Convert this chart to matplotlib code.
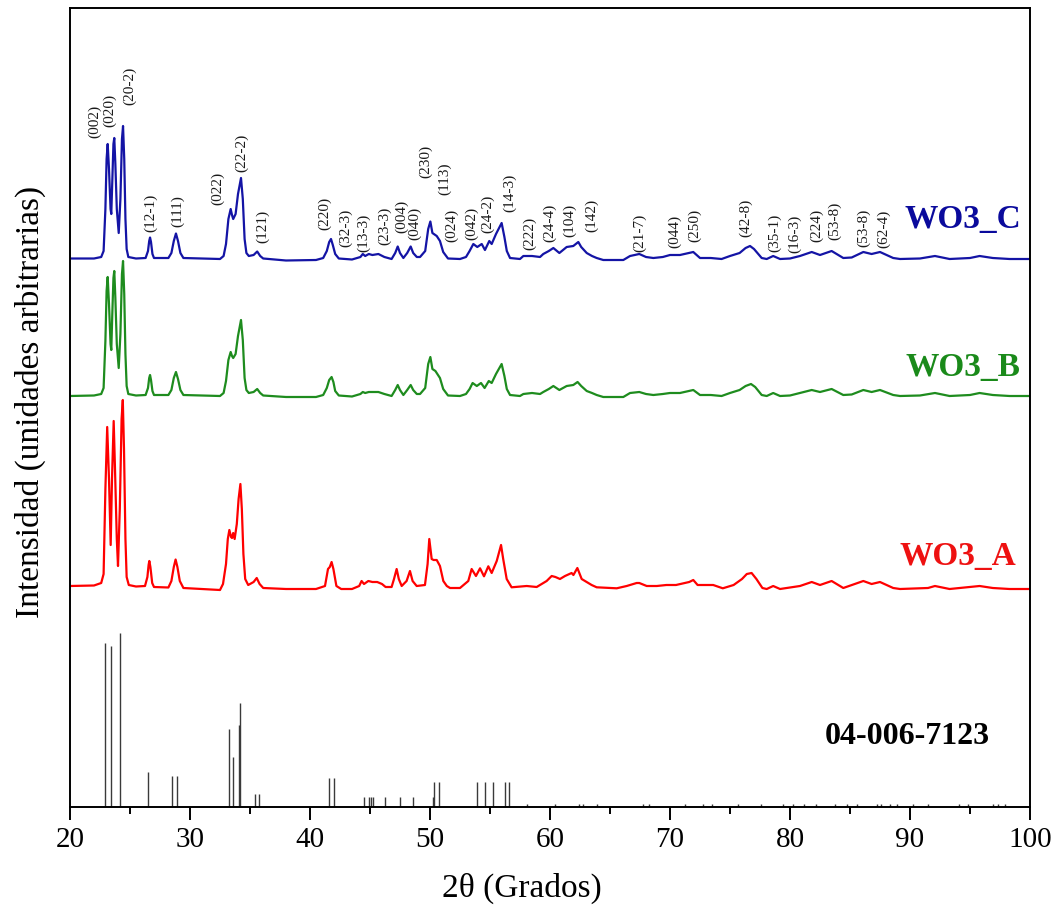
import matplotlib
matplotlib.use("Agg")
import matplotlib.pyplot as plt
import numpy as np

plt.rcParams['font.family'] = ['Liberation Serif', 'DejaVu Serif']

# ---------------- data ----------------
# WO3_C (blue) : 2theta, intensity above its own baseline (a.u.)
theta_C = [20.0, 22.0, 22.6, 22.8, 22.95, 23.05, 23.14, 23.25, 23.38, 23.44, 23.52, 23.62, 23.69, 23.78, 23.9,
           24.06, 24.2, 24.33, 24.42, 24.52, 24.62, 24.72, 24.86, 25.5, 26.3, 26.5, 26.6, 26.67, 26.75, 26.87,
           27.0, 28.2, 28.45, 28.65, 28.83, 29.0, 29.2, 29.45, 32.5, 32.8, 33.0, 33.2, 33.39, 33.5, 33.6,
           33.8, 34.0, 34.25, 34.4, 34.55, 34.7, 34.9, 35.3, 35.6, 35.85, 36.1, 38.0, 40.5, 41.1, 41.4,
           41.6, 41.75, 41.9, 42.1, 42.4, 43.5, 44.2, 44.4, 44.6, 44.9, 45.2, 45.7, 46.2, 46.8, 47.1,
           47.31, 47.5, 47.78, 48.1, 48.39, 48.6, 48.9, 49.17, 49.6, 49.85, 50.03, 50.2, 50.45, 50.56, 50.83,
           51.1, 51.5, 52.5, 53.0, 53.3, 53.61, 53.94, 54.31, 54.58, 54.94, 55.14, 55.5, 55.97, 56.2, 56.4,
           56.67, 57.5, 57.78, 58.5, 59.17, 59.44, 59.9, 60.28, 60.78, 61.39, 61.94, 62.36, 62.6, 63.06, 63.5,
           63.89, 64.44, 66.11, 66.67, 67.44, 68.0, 68.61, 69.4, 70.0, 70.83, 71.94, 72.5, 73.4, 74.3, 75.0,
           75.8, 76.3, 76.67, 77.0, 77.64, 78.06, 78.6, 79.17, 80.0, 80.83, 81.81, 82.5, 83.47, 84.44, 85.14,
           86.11, 86.8, 87.5, 88.6, 89.17, 90.83, 92.08, 93.3, 95.0, 95.8, 96.9, 98.3, 100.0]
inten_C = [0.5, 0.5, 2, 8, 50, 100, 115, 90, 50, 45, 75, 115, 121, 95, 50,
           26, 60, 120, 133, 100, 40, 10, 2, 0.5, 1, 8, 18, 21.5, 17, 5,
           1, 1, 6, 18, 25.5, 18, 6, 1, 0, 3, 15, 40, 50, 44, 40,
           45, 65, 81, 60, 20, 6, 3, 4, 7.5, 3, 0.5, -1.5, -1, 1, 8,
           17, 20, 14, 5, 0.5, -0.5, 2, 5, 3, 5, 4, 5, 2, 0, 6,
           12.5, 6, 1, 6, 12.5, 6, 2, 2, 8, 30, 37.5, 26, 24, 23, 18,
           7, 0.5, 0, 2, 8, 15, 12, 15, 9, 18, 15, 25, 36, 22, 8,
           1, 0, 3, 3, 2, 5, 8, 11, 6, 12, 13, 17, 12, 6, 3,
           1, -1, -1, 3, 5, 2, 1, 2, 4, 4, 7, 1, 1, 0, 3,
           6, 11, 13, 10, 1, 0, 3, 0, 0.5, 3, 7, 4, 8, 1, 1.5,
           7, 5, 7, 1, 0, 0.5, 3, 0, 1, 3, 1, 0, 0]

# WO3_B (green)
theta_B = [20.0, 22.0, 22.6, 22.8, 22.95, 23.05, 23.14, 23.25, 23.38, 23.44, 23.52, 23.62, 23.69, 23.78, 23.9,
           24.06, 24.2, 24.33, 24.42, 24.52, 24.62, 24.72, 24.86, 25.5, 26.3, 26.5, 26.6, 26.67, 26.75, 26.87,
           27.0, 28.2, 28.45, 28.65, 28.83, 29.0, 29.2, 29.45, 32.5, 32.8, 33.0, 33.2, 33.39, 33.5, 33.6,
           33.8, 34.0, 34.25, 34.4, 34.55, 34.7, 34.9, 35.3, 35.6, 35.85, 36.1, 38.0, 40.5, 41.1, 41.4,
           41.6, 41.8, 41.95, 42.1, 42.4, 43.5, 44.2, 44.4, 44.6, 44.9, 45.2, 45.7, 46.2, 46.8, 47.1,
           47.31, 47.5, 47.78, 48.1, 48.39, 48.6, 48.9, 49.17, 49.6, 49.85, 50.03, 50.2, 50.45, 50.56, 50.83,
           51.1, 51.5, 52.5, 53.0, 53.3, 53.55, 53.9, 54.25, 54.55, 54.9, 55.14, 55.5, 55.97, 56.2, 56.4,
           56.67, 57.5, 57.78, 58.5, 59.17, 59.44, 59.9, 60.28, 60.78, 61.39, 61.94, 62.3, 62.6, 63.06, 63.5,
           63.89, 64.44, 66.11, 66.67, 67.44, 68.0, 68.61, 69.4, 70.0, 70.83, 71.94, 72.5, 73.4, 74.3, 75.0,
           75.8, 76.3, 76.75, 77.1, 77.64, 78.06, 78.6, 79.17, 80.0, 80.83, 81.81, 82.5, 83.47, 84.44, 85.14,
           86.11, 86.8, 87.5, 88.6, 89.17, 90.83, 92.08, 93.3, 95.0, 95.8, 96.9, 98.3, 100.0]
inten_B = [0, 0.5, 2, 8, 55, 105, 119, 92, 52, 46, 80, 118, 125, 98, 52,
           28, 62, 122, 135, 102, 42, 10, 2, 0.5, 1, 8, 18, 21, 16, 5,
           1, 1, 6, 18, 24, 17, 6, 1, 0, 3, 15, 36, 44, 40, 38,
           42, 60, 76, 56, 18, 6, 3, 4, 7, 3, 0.5, -1, -1, 1, 8,
           16, 19, 14, 5, 0.5, -0.5, 2, 4, 3, 4, 4, 4, 2, 0, 6,
           11, 6, 1, 6, 11, 6, 2, 2, 8, 32, 39, 27, 25, 23, 18,
           7, 0.5, 0, 2, 7, 13, 10, 13, 8, 15, 13, 22, 32, 20, 7,
           1, 0, 2, 3, 2, 4, 7, 10, 6, 10, 11, 14, 10, 5, 3,
           1, -1, -1, 3, 4, 2, 1, 2, 3, 3, 6, 1, 1, 0, 3,
           6, 10, 12, 9, 1, 0, 3, 0, 0.5, 3, 6, 4, 7, 1, 1.5,
           6, 4, 6, 1, 0, 0.5, 3, 0, 1, 3, 1, 0, 0]

# WO3_A (red)
theta_A = [20.0, 22.0, 22.6, 22.8, 22.95, 23.1, 23.25, 23.39, 23.5, 23.64, 23.75, 23.9, 24.0, 24.15, 24.3,
           24.4, 24.5, 24.62, 24.72, 24.9, 25.5, 26.25, 26.45, 26.55, 26.61, 26.7, 26.85, 27.0, 28.2, 28.45,
           28.65, 28.8, 28.95, 29.15, 29.45, 32.5, 32.75, 33.0, 33.15, 33.28, 33.42, 33.5, 33.6, 33.72, 33.9,
           34.05, 34.2, 34.32, 34.45, 34.6, 34.85, 35.3, 35.56, 35.8, 36.1, 38.0, 40.5, 41.25, 41.5, 41.65,
           41.8, 41.95, 42.2, 42.6, 43.5, 44.1, 44.3, 44.5, 44.86, 45.2, 45.6, 46.0, 46.3, 46.8, 47.0,
           47.22, 47.4, 47.64, 48.05, 48.33, 48.55, 48.89, 49.58, 49.8, 49.94, 50.14, 50.3, 50.56, 50.83, 51.11,
           51.4, 51.67, 52.5, 53.19, 53.47, 53.83, 54.17, 54.5, 54.86, 55.14, 55.56, 55.92, 56.1, 56.39, 56.8,
           58.06, 58.89, 59.72, 60.14, 60.45, 60.83, 61.25, 61.8, 61.95, 62.28, 62.64, 63.06, 63.47, 63.89, 65.56,
           66.39, 67.22, 67.44, 68.06, 68.9, 69.7, 70.5, 71.6, 71.94, 72.3, 73.6, 74.4, 75.3, 76.0, 76.4,
           76.8, 77.2, 77.7, 78.06, 78.6, 79.17, 80.83, 81.81, 82.5, 83.47, 84.44, 86.11, 86.8, 87.5, 88.6,
           89.17, 91.5, 92.08, 93.3, 95.8, 96.9, 98.3, 100.0]
inten_A = [3, 3.5, 6, 15, 100, 162, 110, 44, 110, 168, 120, 50, 23, 80, 170,
           189, 140, 50, 12, 4, 2.5, 3, 12, 24, 28, 22, 6, 2, 1.5, 8,
           22, 29.5, 22, 8, 1, -1, 5, 25, 50, 59, 52, 51, 56, 50, 65,
           90, 105, 80, 35, 10, 4, 7, 11, 5, 1, 0, 0, 3, 20, 22,
           27, 20, 3, 0, 0, 3, 8, 5, 8, 7, 7, 5, 2, 2, 10,
           20, 10, 3, 8, 18, 8, 3, 4, 25, 50, 30, 29, 29, 23, 8,
           3, 1, 1, 8, 20, 13, 20.7, 12.7, 22.7, 16, 28, 44, 30, 10, 1.7,
           3, 2, 8, 13, 12, 10, 13, 16, 14, 21, 10, 7, 4, 1.7, 0.7,
           3, 6, 6, 3, 3, 4, 4, 7, 9, 4, 4, 0.7, 4, 10, 15,
           16, 10, 1, 0, 3, 0, 3, 7, 4, 8, 1, 8, 5, 7, 1,
           0, 1, 3, 0, 3, 1, 0, 0]

# Reference pattern 04-006-7123 (stick positions / relative heights)
ref_theta = [22.92, 23.42, 24.17, 26.47, 28.5, 28.89, 33.25, 33.58, 34.11, 34.19, 35.42, 35.72,
             41.61, 42.0, 44.5, 44.94, 45.08, 45.22, 46.28, 47.53, 48.61, 50.22, 50.33, 50.72,
             53.94, 54.61, 55.22, 56.28, 56.56, 58.06, 60.42, 62.44, 62.72, 63.89, 67.78, 68.28,
             71.25, 72.78, 73.47, 75.7, 77.58, 79.39, 80.28, 81.17, 82.2, 83.75, 84.78, 85.56,
             87.22, 87.58, 88.33, 88.94, 90.28, 91.53, 94.11, 94.86, 96.94, 97.36, 97.92]
ref_inten = [164, 160.7, 173.3, 34.3, 30.7, 30.7, 77.3, 50, 81.7, 103.3, 12.7, 12.7,
             28.3, 28.3, 9.3, 9.3, 9.3, 9.3, 9.3, 9.3, 9.3, 9.3, 25, 25,
             25, 25, 25, 25, 25, 2.7, 2.7, 2.7, 2.7, 2.7, 3, 3,
             3, 3, 3, 3, 3, 3, 3, 3, 3, 3, 3, 3,
             3, 3, 3, 3, 3, 3, 3, 3, 3, 3, 3]

# Miller index labels
hkl_labels = ['(002)', '(020)', '(20-2)', '(12-1)', '(111)', '(022)', '(22-2)', '(121)', '(220)',
              '(32-3)', '(13-3)', '(23-3)', '(004)', '(040)', '(230)', '(113)', '(024)', '(042)',
              '(24-2)', '(14-3)', '(222)', '(24-4)', '(104)', '(142)', '(21-7)', '(044)', '(250)',
              '(42-8)', '(35-1)', '(16-3)', '(224)', '(53-8)', '(53-8)', '(62-4)']
hkl_x = [22.08, 23.28, 25.0, 26.73, 28.94, 32.31, 34.31, 36.03, 41.25,
         43.0, 44.5, 46.25, 47.67, 48.75, 49.67, 51.25, 51.81, 53.47,
         54.81, 56.67, 58.33, 60.0, 61.67, 63.47, 67.5, 70.36, 72.08,
         76.33, 78.75, 80.42, 82.22, 83.75, 86.17, 87.83]
hkl_y = [668.4, 680, 701.7, 575, 580, 601.7, 635, 564, 576.7,
         560, 554.7, 561.7, 573.7, 566.7, 628.4, 611.7, 565, 566.7,
         573.4, 595, 556.7, 565, 570, 575, 555, 558.4, 565,
         570, 555, 553.4, 565, 566.7, 560, 558.4]

sample_names = ['WO3_A', 'WO3_B', 'WO3_C']
ref_name = '04-006-7123'

# ---------------- layout / style ----------------
offset_A, offset_B, offset_C = 217.7, 410.7, 547.7
col_A, col_B, col_C = '#ff0000', '#1e8c1e', '#1414a5'
txt_A, txt_B, txt_C = '#ee1111', '#1a8a1a', '#0a0a9c'

fig = plt.figure(figsize=(10.59, 9.15), dpi=100)
ax = fig.add_axes([70/1059, 1 - 806.7/915, 960/1059, 798.7/915])

ax.plot(theta_A, np.array(inten_A) + offset_A, color=col_A, lw=1.6)
ax.plot(theta_B, np.array(inten_B) + offset_B, color=col_B, lw=1.6)
ax.plot(theta_C, np.array(inten_C) + offset_C, color=col_C, lw=1.6)
ax.vlines(ref_theta, 0, ref_inten, color='#3a3a3a', lw=1.0)

for lab, x, y in zip(hkl_labels, hkl_x, hkl_y):
    ax.text(x, y, lab, rotation=90, ha='center', va='bottom', fontsize=11, color='#1a1a1a')

ax.text(94.42, 806.7 - 219, sample_names[2], ha='center', va='center', fontsize=24,
        fontweight='bold', color=txt_C)
ax.text(94.42, 806.7 - 367, sample_names[1], ha='center', va='center', fontsize=24,
        fontweight='bold', color=txt_B)
ax.text(94.0, 806.7 - 557, sample_names[0], ha='center', va='center', fontsize=24,
        fontweight='bold', color=txt_A)
ax.text(89.8, 806.7 - 737, ref_name, ha='center', va='center', fontsize=23,
        fontweight='bold', color='black')

ax.set_xlim(20, 100)
ax.set_ylim(0, 798.7)
ax.set_xticks(np.arange(20, 101, 10))
ax.set_xticks(np.arange(25, 100, 10), minor=True)
ax.tick_params(axis='x', which='major', direction='out', length=9.5, width=1.4, labelsize=21, pad=5)
ax.tick_params(axis='x', which='minor', direction='out', length=5, width=1.4)
ax.set_yticks([])
for s in ax.spines.values():
    s.set_linewidth(1.4)

ax.set_xlabel('2θ (Grados)', fontsize=24)
ax.xaxis.set_label_coords(0.471, -0.083)
ax.set_ylabel('Intensidad (unidades arbitrarias)', fontsize=24)
ax.yaxis.set_label_coords(-0.025, 0.507)

fig.savefig('out.png', dpi=100)
